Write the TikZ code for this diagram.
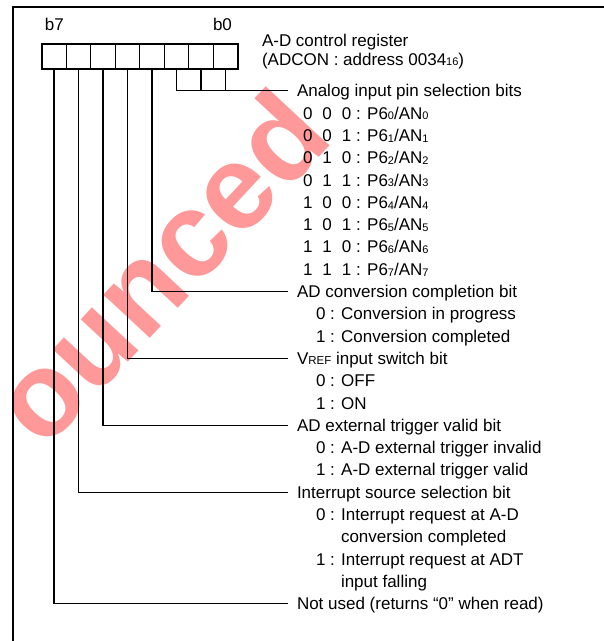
\documentclass[tikz,border=0pt]{standalone}
\usepackage{fontspec}
\setmainfont{Liberation Sans}
\newcommand{\lowsub}[1]{\raisebox{-0.8pt}{\fontsize{11}{11}\selectfont #1}}
\newcommand{\smallcp}[1]{{\fontsize{11.5}{11}\selectfont #1}}
\tikzset{
  txt/.style={anchor=base west, inner sep=0pt, outer sep=0pt, font=\fontsize{17}{20}\selectfont},
  cell/.style={draw, line width=1pt, minimum width=24.5pt, minimum height=25.5pt, inner sep=0pt, outer sep=0pt},
  conn/.style={line width=1.1pt},
  frameline/.style={line width=2pt},
  regbox/.style={line width=2pt},
  wm/.style={anchor=base west, rotate=47, inner sep=0pt, font=\fontsize{120}{120}\selectfont\bfseries, text=red!40}
}
\begin{document}
\begin{tikzpicture}[x=1pt,y=-1pt]
\useasboundingbox (0,0) rectangle (604,641);
% watermark
\begin{scope}
  \clip (0,0) rectangle (604,641);
  \node[wm] (wmk) at (44,452) {ounced};
\end{scope}
% frame
\draw[frameline] (13,641) -- (13,7) -- (604,7);
% register cells
\foreach \i in {0,...,7} {
  \node[cell] (c\i) at ({53.95+24.5*\i},56.25) {};
}
\draw[regbox] (c0.north west) rectangle (c7.south east);
\node[txt] (b7) at (45,30) {b7};
\node[txt] (b0) at (213,30) {b0};
\node[txt] (t1) at (262,46) {A-D control register};
\node[txt] (t2) at (262,65) {(ADCON : address 0034\lowsub{16})};
% analog selection
\node[txt] (l0) at (297,96.8) {Analog input pin selection bits};
\foreach \k/\a/\b/\c/\n in {1/0/0/0/0,2/0/0/1/1,3/0/1/0/2,4/0/1/1/3,5/1/0/0/4,6/1/0/1/5,7/1/1/0/6,8/1/1/1/7} {
  \node[txt] (row\k) at (303,{96.8+22.3*\k}) {\makebox[19.5pt][l]{\a}\makebox[19.5pt][l]{\b}\c\ : P6\lowsub{\n}/AN\lowsub{\n}};
}
\node[txt] (l9) at (297,297.5) {AD conversion completion bit};
\node[txt] (l10) at (316,319.8) {0 : Conversion in progress};
\node[txt] (l11) at (316,342.1) {1 : Conversion completed};
\node[txt] (l12) at (297,364.4) {V\smallcp{REF} input switch bit};
\node[txt] (l13) at (316,386.7) {0 : OFF};
\node[txt] (l14) at (316,409.0) {1 : ON};
\node[txt] (l15) at (297,431.3) {AD external trigger valid bit};
\node[txt] (l16) at (316,453.6) {0 : A-D external trigger invalid};
\node[txt] (l17) at (316,475.9) {1 : A-D external trigger valid};
\node[txt] (l18) at (297,498.2) {Interrupt source selection bit};
\node[txt] (l19) at (316,520.5) {0 : Interrupt request at A-D};
\node[txt] (l20) at (341,542.8) {conversion completed};
\node[txt] (l21) at (316,565.1) {1 : Interrupt request at ADT};
\node[txt] (l22) at (341,587.4) {input falling};
\node[txt] (l23) at (297,609.7) {Not used (returns “0” when read)};
% connector ends
\coordinate (e0) at (288,90.8);
\coordinate (e9) at (288,291.5);
\coordinate (e12) at (288,358.4);
\coordinate (e15) at (288,425.3);
\coordinate (e18) at (288,492.2);
\coordinate (e23) at (288,603.7);
\draw[conn] (c5.south) |- (e0);
\draw[conn] (c6.south) -- (c6.south |- e0);
\draw[conn] (c7.south) -- (c7.south |- e0);
\draw[conn] (c4.south) |- (e9);
\draw[conn] (c3.south) |- (e12);
\draw[conn] (c2.south) |- (e15);
\draw[conn] (c1.south) |- (e18);
\draw[conn] (c0.south) |- (e23);
\end{tikzpicture}
\end{document}
